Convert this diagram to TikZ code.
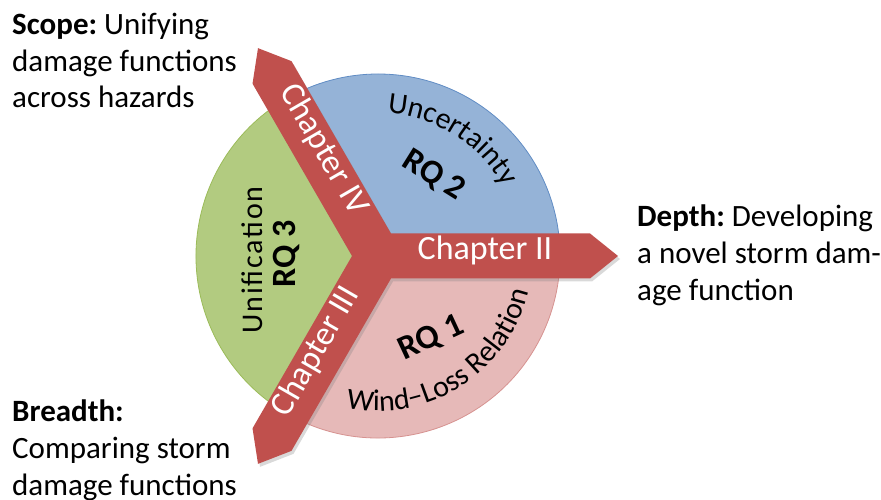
\documentclass[tikz,border=0pt]{standalone}
\usepackage{fontspec}
\setmainfont{Carlito}
\newfontfamily\sperrfont[LetterSpace=6]{Carlito}
\usetikzlibrary{shadows,decorations.text}
\frenchspacing

\definecolor{sekBlau}{RGB}{149,179,215}
\definecolor{sekGruen}{RGB}{178,203,128}
\definecolor{sekRosa}{RGB}{230,185,184}
\definecolor{randBlau}{RGB}{96,140,196}
\definecolor{randGruen}{RGB}{155,187,89}
\definecolor{randRosa}{RGB}{214,146,144}
\definecolor{pfeilRot}{RGB}{192,80,77}

\tikzset{
    sektor/.style={line width=0.8pt},
    kapitel/.style={text=white, inner sep=0pt, text height=0.64em, text depth=0pt,
        font=\fontsize{34}{40}\selectfont},
    rq/.style={inner sep=0pt, font=\bfseries\fontsize{34}{40}\selectfont},
    thema/.style={inner sep=0pt, font=\sperrfont\fontsize{30}{34}\selectfont},
    randtext/.style={align=left, anchor=north west, inner sep=0pt,
        font=\fontsize{31}{36.7}\selectfont},
}

\begin{document}
\begin{tikzpicture}[x=1pt, y=1pt]
            \useasboundingbox (0,0) rectangle (881,500);
            \begin{scope}[shift={(378,244)}]
            % Kreissektoren:
            \filldraw[sektor, fill=sekBlau, draw=randBlau]
                (0,0) -- (0:182) arc[start angle=0, end angle=120, radius=182pt] -- cycle;
            \filldraw[sektor, fill=sekGruen, draw=randGruen]
                (0,0) -- (120:182) arc[start angle=120, end angle=240, radius=182pt] -- cycle;
            \filldraw[sektor, fill=sekRosa, draw=randRosa]
                (0,0) -- (240:182) arc[start angle=240, end angle=360, radius=182pt] -- cycle;
            % Kapitel-Pfeile:
            \fill[pfeilRot, drop shadow={shadow xshift=2pt, shadow yshift=-3pt, opacity=0.3}]
                (300:25.98)
                \foreach \a in {0,120,240} {
                    -- ([shift={(\a:212)}]\a-90:22.5) -- (\a:240)
                    -- ([shift={(\a:212)}]\a+90:22.5) -- (\a+60:25.98)
                } -- cycle;
            \node[kapitel] (kap2) at (0:107) {Chapter II};
            \node[kapitel, rotate=-60] (kap4) at (120:119) {Chapter IV};
            \node[kapitel, rotate=60] (kap3) at (240:114) {Chapter III};
            % Forschungsfragen:
            \node[rq, rotate=-32] (rq2) at (55.5,80.5) {RQ 2};
            \node[rq, rotate=25] (rq1) at (53.5,-82.5) {RQ 1};
            \node[rq, rotate=90] (rq3) at (-91.5,2) {RQ 3};
            \node[thema, rotate=90, anchor=base] (unif) at (-116,-4) {Unification};
            \path[decorate, decoration={text along path, text align=center,
                    text={|\sperrfont\fontsize{30}{34}\selectfont|Uncertainty}}]
                (95:143) arc[start angle=95, end angle=20, radius=143pt];
            \path[decorate, decoration={text along path, text align=center,
                    text={|\fontsize{30}{34}\selectfont|Wind–Loss Relation}}]
                (245:155) arc[start angle=245, end angle=360, radius=155pt];
            \end{scope}
            % Texte am Rand:
            \node[randtext] (scope) at (12,487)
                {\textbf{Scope:} Unifying\\damage functions\\across hazards};
            \node[randtext] (depth) at (637,295)
                {\textbf{Depth:} Developing\\a novel storm dam-\\age function};
            \node[randtext] (breadth) at (12,100)
                {\textbf{Breadth:}\\Comparing storm\\damage functions};
\end{tikzpicture}
\end{document}
